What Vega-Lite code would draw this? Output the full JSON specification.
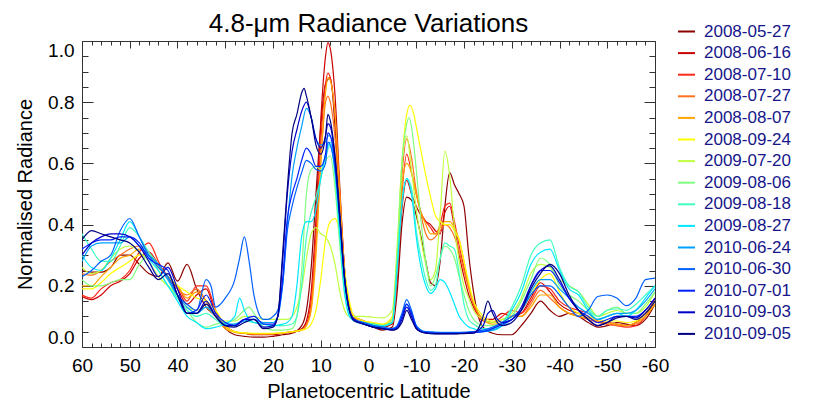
{
"$schema":"https://vega.github.io/schema/vega-lite/v6.json",
"autosize":{"type":"none"},
"padding":{"left":82,"top":41,"right":162,"bottom":62},
"width":573,"height":306,
"title":{"text":"4.8-μm Radiance Variations","fontSize":26,"font":"Liberation Sans","fontWeight":"normal","color":"black","anchor":"middle","offset":-15},
"config":{"view":{"stroke":"#333","strokeWidth":1},"font":"Liberation Sans"},
"data":{"values":[
{"date":"2008-05-27","lat":60,"v":0.25},{"date":"2008-05-27","lat":58,"v":0.245},{"date":"2008-05-27","lat":56,"v":0.245},{"date":"2008-05-27","lat":54,"v":0.26},{"date":"2008-05-27","lat":52,"v":0.3},{"date":"2008-05-27","lat":50,"v":0.3},{"date":"2008-05-27","lat":48,"v":0.27},{"date":"2008-05-27","lat":46,"v":0.24},{"date":"2008-05-27","lat":44,"v":0.23},{"date":"2008-05-27","lat":42,"v":0.275},{"date":"2008-05-27","lat":40,"v":0.215},{"date":"2008-05-27","lat":38,"v":0.27},{"date":"2008-05-27","lat":36,"v":0.19},{"date":"2008-05-27","lat":34,"v":0.13},{"date":"2008-05-27","lat":32,"v":0.1},{"date":"2008-05-27","lat":30,"v":0.06},{"date":"2008-05-27","lat":28,"v":0.04},{"date":"2008-05-27","lat":26,"v":0.035},{"date":"2008-05-27","lat":24,"v":0.032},{"date":"2008-05-27","lat":22,"v":0.032},{"date":"2008-05-27","lat":20,"v":0.035},{"date":"2008-05-27","lat":18,"v":0.04},{"date":"2008-05-27","lat":16,"v":0.045},{"date":"2008-05-27","lat":14,"v":0.07},{"date":"2008-05-27","lat":13,"v":0.12},{"date":"2008-05-27","lat":12,"v":0.26},{"date":"2008-05-27","lat":11,"v":0.5},{"date":"2008-05-27","lat":10,"v":0.72},{"date":"2008-05-27","lat":9,"v":0.86},{"date":"2008-05-27","lat":8,"v":0.88},{"date":"2008-05-27","lat":7,"v":0.72},{"date":"2008-05-27","lat":6,"v":0.47},{"date":"2008-05-27","lat":5,"v":0.24},{"date":"2008-05-27","lat":4,"v":0.13},{"date":"2008-05-27","lat":3,"v":0.095},{"date":"2008-05-27","lat":1,"v":0.075},{"date":"2008-05-27","lat":-1,"v":0.065},{"date":"2008-05-27","lat":-3,"v":0.055},{"date":"2008-05-27","lat":-5,"v":0.065},{"date":"2008-05-27","lat":-6,"v":0.18},{"date":"2008-05-27","lat":-7,"v":0.4},{"date":"2008-05-27","lat":-8,"v":0.49},{"date":"2008-05-27","lat":-9,"v":0.48},{"date":"2008-05-27","lat":-10,"v":0.43},{"date":"2008-05-27","lat":-11,"v":0.36},{"date":"2008-05-27","lat":-12,"v":0.28},{"date":"2008-05-27","lat":-13,"v":0.21},{"date":"2008-05-27","lat":-14,"v":0.2},{"date":"2008-05-27","lat":-15,"v":0.28},{"date":"2008-05-27","lat":-16,"v":0.46},{"date":"2008-05-27","lat":-17,"v":0.57},{"date":"2008-05-27","lat":-18,"v":0.53},{"date":"2008-05-27","lat":-19,"v":0.5},{"date":"2008-05-27","lat":-20,"v":0.46},{"date":"2008-05-27","lat":-21,"v":0.3},{"date":"2008-05-27","lat":-22,"v":0.18},{"date":"2008-05-27","lat":-23,"v":0.1},{"date":"2008-05-27","lat":-24,"v":0.065},{"date":"2008-05-27","lat":-26,"v":0.045},{"date":"2008-05-27","lat":-28,"v":0.04},{"date":"2008-05-27","lat":-30,"v":0.04},{"date":"2008-05-27","lat":-32,"v":0.07},{"date":"2008-05-27","lat":-34,"v":0.11},{"date":"2008-05-27","lat":-36,"v":0.15},{"date":"2008-05-27","lat":-38,"v":0.12},{"date":"2008-05-27","lat":-40,"v":0.1},{"date":"2008-05-27","lat":-42,"v":0.11},{"date":"2008-05-27","lat":-44,"v":0.1},{"date":"2008-05-27","lat":-46,"v":0.08},{"date":"2008-05-27","lat":-48,"v":0.065},{"date":"2008-05-27","lat":-50,"v":0.07},{"date":"2008-05-27","lat":-52,"v":0.08},{"date":"2008-05-27","lat":-54,"v":0.075},{"date":"2008-05-27","lat":-56,"v":0.07},{"date":"2008-05-27","lat":-58,"v":0.09},{"date":"2008-05-27","lat":-60,"v":0.14},
{"date":"2008-06-16","lat":60,"v":0.165},{"date":"2008-06-16","lat":58,"v":0.155},{"date":"2008-06-16","lat":56,"v":0.17},{"date":"2008-06-16","lat":54,"v":0.2},{"date":"2008-06-16","lat":52,"v":0.215},{"date":"2008-06-16","lat":50,"v":0.24},{"date":"2008-06-16","lat":48,"v":0.29},{"date":"2008-06-16","lat":46,"v":0.31},{"date":"2008-06-16","lat":44,"v":0.27},{"date":"2008-06-16","lat":42,"v":0.23},{"date":"2008-06-16","lat":40,"v":0.19},{"date":"2008-06-16","lat":38,"v":0.14},{"date":"2008-06-16","lat":36,"v":0.17},{"date":"2008-06-16","lat":34,"v":0.19},{"date":"2008-06-16","lat":32,"v":0.11},{"date":"2008-06-16","lat":30,"v":0.07},{"date":"2008-06-16","lat":28,"v":0.05},{"date":"2008-06-16","lat":26,"v":0.045},{"date":"2008-06-16","lat":24,"v":0.04},{"date":"2008-06-16","lat":22,"v":0.04},{"date":"2008-06-16","lat":20,"v":0.04},{"date":"2008-06-16","lat":18,"v":0.045},{"date":"2008-06-16","lat":16,"v":0.05},{"date":"2008-06-16","lat":14,"v":0.06},{"date":"2008-06-16","lat":13,"v":0.085},{"date":"2008-06-16","lat":12,"v":0.18},{"date":"2008-06-16","lat":11,"v":0.42},{"date":"2008-06-16","lat":10,"v":0.74},{"date":"2008-06-16","lat":9,"v":0.95},{"date":"2008-06-16","lat":8.5,"v":0.995},{"date":"2008-06-16","lat":8,"v":0.975},{"date":"2008-06-16","lat":7,"v":0.82},{"date":"2008-06-16","lat":6,"v":0.52},{"date":"2008-06-16","lat":5,"v":0.25},{"date":"2008-06-16","lat":4,"v":0.13},{"date":"2008-06-16","lat":3,"v":0.1},{"date":"2008-06-16","lat":1,"v":0.085},{"date":"2008-06-16","lat":-1,"v":0.07},{"date":"2008-06-16","lat":-3,"v":0.065},{"date":"2008-06-16","lat":-5,"v":0.075},{"date":"2008-06-16","lat":-6,"v":0.22},{"date":"2008-06-16","lat":-7,"v":0.45},{"date":"2008-06-16","lat":-8,"v":0.545},{"date":"2008-06-16","lat":-9,"v":0.5},{"date":"2008-06-16","lat":-10,"v":0.46},{"date":"2008-06-16","lat":-11,"v":0.43},{"date":"2008-06-16","lat":-12,"v":0.41},{"date":"2008-06-16","lat":-13,"v":0.4},{"date":"2008-06-16","lat":-14,"v":0.38},{"date":"2008-06-16","lat":-15,"v":0.37},{"date":"2008-06-16","lat":-16,"v":0.44},{"date":"2008-06-16","lat":-17,"v":0.46},{"date":"2008-06-16","lat":-18,"v":0.39},{"date":"2008-06-16","lat":-19,"v":0.3},{"date":"2008-06-16","lat":-20,"v":0.23},{"date":"2008-06-16","lat":-21,"v":0.17},{"date":"2008-06-16","lat":-22,"v":0.13},{"date":"2008-06-16","lat":-23,"v":0.1},{"date":"2008-06-16","lat":-24,"v":0.09},{"date":"2008-06-16","lat":-26,"v":0.09},{"date":"2008-06-16","lat":-28,"v":0.11},{"date":"2008-06-16","lat":-30,"v":0.1},{"date":"2008-06-16","lat":-32,"v":0.11},{"date":"2008-06-16","lat":-34,"v":0.16},{"date":"2008-06-16","lat":-36,"v":0.21},{"date":"2008-06-16","lat":-38,"v":0.18},{"date":"2008-06-16","lat":-40,"v":0.14},{"date":"2008-06-16","lat":-42,"v":0.12},{"date":"2008-06-16","lat":-44,"v":0.11},{"date":"2008-06-16","lat":-46,"v":0.1},{"date":"2008-06-16","lat":-48,"v":0.08},{"date":"2008-06-16","lat":-50,"v":0.08},{"date":"2008-06-16","lat":-52,"v":0.075},{"date":"2008-06-16","lat":-54,"v":0.07},{"date":"2008-06-16","lat":-56,"v":0.08},{"date":"2008-06-16","lat":-58,"v":0.11},{"date":"2008-06-16","lat":-60,"v":0.15},
{"date":"2008-07-10","lat":60,"v":0.17},{"date":"2008-07-10","lat":58,"v":0.16},{"date":"2008-07-10","lat":56,"v":0.19},{"date":"2008-07-10","lat":54,"v":0.21},{"date":"2008-07-10","lat":52,"v":0.22},{"date":"2008-07-10","lat":50,"v":0.25},{"date":"2008-07-10","lat":48,"v":0.31},{"date":"2008-07-10","lat":46,"v":0.34},{"date":"2008-07-10","lat":44,"v":0.28},{"date":"2008-07-10","lat":42,"v":0.22},{"date":"2008-07-10","lat":40,"v":0.2},{"date":"2008-07-10","lat":38,"v":0.15},{"date":"2008-07-10","lat":36,"v":0.2},{"date":"2008-07-10","lat":34,"v":0.2},{"date":"2008-07-10","lat":32,"v":0.12},{"date":"2008-07-10","lat":30,"v":0.07},{"date":"2008-07-10","lat":28,"v":0.05},{"date":"2008-07-10","lat":26,"v":0.045},{"date":"2008-07-10","lat":24,"v":0.042},{"date":"2008-07-10","lat":22,"v":0.042},{"date":"2008-07-10","lat":20,"v":0.043},{"date":"2008-07-10","lat":18,"v":0.045},{"date":"2008-07-10","lat":16,"v":0.05},{"date":"2008-07-10","lat":14,"v":0.055},{"date":"2008-07-10","lat":13,"v":0.075},{"date":"2008-07-10","lat":12,"v":0.15},{"date":"2008-07-10","lat":11,"v":0.37},{"date":"2008-07-10","lat":10,"v":0.67},{"date":"2008-07-10","lat":9,"v":0.86},{"date":"2008-07-10","lat":8.5,"v":0.895},{"date":"2008-07-10","lat":8,"v":0.88},{"date":"2008-07-10","lat":7,"v":0.75},{"date":"2008-07-10","lat":6,"v":0.5},{"date":"2008-07-10","lat":5,"v":0.25},{"date":"2008-07-10","lat":4,"v":0.13},{"date":"2008-07-10","lat":3,"v":0.1},{"date":"2008-07-10","lat":1,"v":0.085},{"date":"2008-07-10","lat":-1,"v":0.075},{"date":"2008-07-10","lat":-3,"v":0.068},{"date":"2008-07-10","lat":-5,"v":0.08},{"date":"2008-07-10","lat":-6,"v":0.25},{"date":"2008-07-10","lat":-7,"v":0.5},{"date":"2008-07-10","lat":-8,"v":0.63},{"date":"2008-07-10","lat":-9,"v":0.57},{"date":"2008-07-10","lat":-10,"v":0.5},{"date":"2008-07-10","lat":-11,"v":0.44},{"date":"2008-07-10","lat":-12,"v":0.41},{"date":"2008-07-10","lat":-13,"v":0.39},{"date":"2008-07-10","lat":-14,"v":0.37},{"date":"2008-07-10","lat":-15,"v":0.4},{"date":"2008-07-10","lat":-16,"v":0.46},{"date":"2008-07-10","lat":-17,"v":0.47},{"date":"2008-07-10","lat":-18,"v":0.41},{"date":"2008-07-10","lat":-19,"v":0.33},{"date":"2008-07-10","lat":-20,"v":0.26},{"date":"2008-07-10","lat":-21,"v":0.2},{"date":"2008-07-10","lat":-22,"v":0.14},{"date":"2008-07-10","lat":-23,"v":0.1},{"date":"2008-07-10","lat":-24,"v":0.085},{"date":"2008-07-10","lat":-26,"v":0.08},{"date":"2008-07-10","lat":-28,"v":0.1},{"date":"2008-07-10","lat":-30,"v":0.12},{"date":"2008-07-10","lat":-32,"v":0.11},{"date":"2008-07-10","lat":-34,"v":0.15},{"date":"2008-07-10","lat":-36,"v":0.2},{"date":"2008-07-10","lat":-38,"v":0.19},{"date":"2008-07-10","lat":-40,"v":0.15},{"date":"2008-07-10","lat":-42,"v":0.13},{"date":"2008-07-10","lat":-44,"v":0.12},{"date":"2008-07-10","lat":-46,"v":0.11},{"date":"2008-07-10","lat":-48,"v":0.085},{"date":"2008-07-10","lat":-50,"v":0.075},{"date":"2008-07-10","lat":-52,"v":0.07},{"date":"2008-07-10","lat":-54,"v":0.065},{"date":"2008-07-10","lat":-56,"v":0.07},{"date":"2008-07-10","lat":-58,"v":0.1},{"date":"2008-07-10","lat":-60,"v":0.16},
{"date":"2008-07-27","lat":60,"v":0.24},{"date":"2008-07-27","lat":58,"v":0.235},{"date":"2008-07-27","lat":56,"v":0.25},{"date":"2008-07-27","lat":54,"v":0.28},{"date":"2008-07-27","lat":52,"v":0.3},{"date":"2008-07-27","lat":50,"v":0.32},{"date":"2008-07-27","lat":48,"v":0.33},{"date":"2008-07-27","lat":46,"v":0.31},{"date":"2008-07-27","lat":44,"v":0.27},{"date":"2008-07-27","lat":42,"v":0.23},{"date":"2008-07-27","lat":40,"v":0.19},{"date":"2008-07-27","lat":38,"v":0.17},{"date":"2008-07-27","lat":36,"v":0.19},{"date":"2008-07-27","lat":34,"v":0.15},{"date":"2008-07-27","lat":32,"v":0.1},{"date":"2008-07-27","lat":30,"v":0.065},{"date":"2008-07-27","lat":28,"v":0.05},{"date":"2008-07-27","lat":26,"v":0.045},{"date":"2008-07-27","lat":24,"v":0.042},{"date":"2008-07-27","lat":22,"v":0.042},{"date":"2008-07-27","lat":20,"v":0.043},{"date":"2008-07-27","lat":18,"v":0.045},{"date":"2008-07-27","lat":16,"v":0.05},{"date":"2008-07-27","lat":14,"v":0.055},{"date":"2008-07-27","lat":13,"v":0.07},{"date":"2008-07-27","lat":12,"v":0.13},{"date":"2008-07-27","lat":11,"v":0.33},{"date":"2008-07-27","lat":10,"v":0.6},{"date":"2008-07-27","lat":9,"v":0.8},{"date":"2008-07-27","lat":8.5,"v":0.82},{"date":"2008-07-27","lat":8,"v":0.8},{"date":"2008-07-27","lat":7,"v":0.68},{"date":"2008-07-27","lat":6,"v":0.45},{"date":"2008-07-27","lat":5,"v":0.23},{"date":"2008-07-27","lat":4,"v":0.12},{"date":"2008-07-27","lat":3,"v":0.095},{"date":"2008-07-27","lat":1,"v":0.085},{"date":"2008-07-27","lat":-1,"v":0.075},{"date":"2008-07-27","lat":-3,"v":0.07},{"date":"2008-07-27","lat":-5,"v":0.09},{"date":"2008-07-27","lat":-6,"v":0.3},{"date":"2008-07-27","lat":-7,"v":0.56},{"date":"2008-07-27","lat":-8,"v":0.68},{"date":"2008-07-27","lat":-9,"v":0.62},{"date":"2008-07-27","lat":-10,"v":0.51},{"date":"2008-07-27","lat":-11,"v":0.43},{"date":"2008-07-27","lat":-12,"v":0.37},{"date":"2008-07-27","lat":-13,"v":0.35},{"date":"2008-07-27","lat":-14,"v":0.36},{"date":"2008-07-27","lat":-15,"v":0.38},{"date":"2008-07-27","lat":-16,"v":0.4},{"date":"2008-07-27","lat":-17,"v":0.39},{"date":"2008-07-27","lat":-18,"v":0.36},{"date":"2008-07-27","lat":-19,"v":0.31},{"date":"2008-07-27","lat":-20,"v":0.25},{"date":"2008-07-27","lat":-21,"v":0.19},{"date":"2008-07-27","lat":-22,"v":0.14},{"date":"2008-07-27","lat":-23,"v":0.11},{"date":"2008-07-27","lat":-24,"v":0.09},{"date":"2008-07-27","lat":-26,"v":0.08},{"date":"2008-07-27","lat":-28,"v":0.09},{"date":"2008-07-27","lat":-30,"v":0.1},{"date":"2008-07-27","lat":-32,"v":0.1},{"date":"2008-07-27","lat":-34,"v":0.14},{"date":"2008-07-27","lat":-36,"v":0.185},{"date":"2008-07-27","lat":-38,"v":0.16},{"date":"2008-07-27","lat":-40,"v":0.13},{"date":"2008-07-27","lat":-42,"v":0.11},{"date":"2008-07-27","lat":-44,"v":0.1},{"date":"2008-07-27","lat":-46,"v":0.09},{"date":"2008-07-27","lat":-48,"v":0.08},{"date":"2008-07-27","lat":-50,"v":0.075},{"date":"2008-07-27","lat":-52,"v":0.07},{"date":"2008-07-27","lat":-54,"v":0.07},{"date":"2008-07-27","lat":-56,"v":0.075},{"date":"2008-07-27","lat":-58,"v":0.1},{"date":"2008-07-27","lat":-60,"v":0.15},
{"date":"2008-08-07","lat":60,"v":0.2},{"date":"2008-08-07","lat":58,"v":0.2},{"date":"2008-08-07","lat":56,"v":0.23},{"date":"2008-08-07","lat":54,"v":0.26},{"date":"2008-08-07","lat":52,"v":0.29},{"date":"2008-08-07","lat":50,"v":0.3},{"date":"2008-08-07","lat":48,"v":0.32},{"date":"2008-08-07","lat":46,"v":0.3},{"date":"2008-08-07","lat":44,"v":0.26},{"date":"2008-08-07","lat":42,"v":0.23},{"date":"2008-08-07","lat":40,"v":0.2},{"date":"2008-08-07","lat":38,"v":0.16},{"date":"2008-08-07","lat":36,"v":0.18},{"date":"2008-08-07","lat":34,"v":0.15},{"date":"2008-08-07","lat":32,"v":0.1},{"date":"2008-08-07","lat":30,"v":0.06},{"date":"2008-08-07","lat":28,"v":0.048},{"date":"2008-08-07","lat":26,"v":0.045},{"date":"2008-08-07","lat":24,"v":0.043},{"date":"2008-08-07","lat":22,"v":0.043},{"date":"2008-08-07","lat":20,"v":0.044},{"date":"2008-08-07","lat":18,"v":0.046},{"date":"2008-08-07","lat":16,"v":0.05},{"date":"2008-08-07","lat":14,"v":0.055},{"date":"2008-08-07","lat":13,"v":0.07},{"date":"2008-08-07","lat":12,"v":0.12},{"date":"2008-08-07","lat":11,"v":0.3},{"date":"2008-08-07","lat":10,"v":0.6},{"date":"2008-08-07","lat":9,"v":0.83},{"date":"2008-08-07","lat":8.5,"v":0.88},{"date":"2008-08-07","lat":8,"v":0.87},{"date":"2008-08-07","lat":7,"v":0.76},{"date":"2008-08-07","lat":6,"v":0.5},{"date":"2008-08-07","lat":5,"v":0.25},{"date":"2008-08-07","lat":4,"v":0.13},{"date":"2008-08-07","lat":3,"v":0.1},{"date":"2008-08-07","lat":1,"v":0.085},{"date":"2008-08-07","lat":-1,"v":0.078},{"date":"2008-08-07","lat":-3,"v":0.072},{"date":"2008-08-07","lat":-5,"v":0.09},{"date":"2008-08-07","lat":-6,"v":0.28},{"date":"2008-08-07","lat":-7,"v":0.52},{"date":"2008-08-07","lat":-8,"v":0.6},{"date":"2008-08-07","lat":-9,"v":0.57},{"date":"2008-08-07","lat":-10,"v":0.5},{"date":"2008-08-07","lat":-11,"v":0.44},{"date":"2008-08-07","lat":-12,"v":0.4},{"date":"2008-08-07","lat":-13,"v":0.37},{"date":"2008-08-07","lat":-14,"v":0.37},{"date":"2008-08-07","lat":-15,"v":0.39},{"date":"2008-08-07","lat":-16,"v":0.41},{"date":"2008-08-07","lat":-17,"v":0.41},{"date":"2008-08-07","lat":-18,"v":0.39},{"date":"2008-08-07","lat":-19,"v":0.35},{"date":"2008-08-07","lat":-20,"v":0.28},{"date":"2008-08-07","lat":-21,"v":0.2},{"date":"2008-08-07","lat":-22,"v":0.15},{"date":"2008-08-07","lat":-23,"v":0.11},{"date":"2008-08-07","lat":-24,"v":0.09},{"date":"2008-08-07","lat":-26,"v":0.075},{"date":"2008-08-07","lat":-28,"v":0.08},{"date":"2008-08-07","lat":-30,"v":0.1},{"date":"2008-08-07","lat":-32,"v":0.1},{"date":"2008-08-07","lat":-34,"v":0.13},{"date":"2008-08-07","lat":-36,"v":0.17},{"date":"2008-08-07","lat":-38,"v":0.17},{"date":"2008-08-07","lat":-40,"v":0.13},{"date":"2008-08-07","lat":-42,"v":0.11},{"date":"2008-08-07","lat":-44,"v":0.1},{"date":"2008-08-07","lat":-46,"v":0.095},{"date":"2008-08-07","lat":-48,"v":0.085},{"date":"2008-08-07","lat":-50,"v":0.08},{"date":"2008-08-07","lat":-52,"v":0.075},{"date":"2008-08-07","lat":-54,"v":0.07},{"date":"2008-08-07","lat":-56,"v":0.08},{"date":"2008-08-07","lat":-58,"v":0.1},{"date":"2008-08-07","lat":-60,"v":0.14},
{"date":"2008-09-24","lat":60,"v":0.19},{"date":"2008-09-24","lat":58,"v":0.19},{"date":"2008-09-24","lat":56,"v":0.21},{"date":"2008-09-24","lat":54,"v":0.24},{"date":"2008-09-24","lat":52,"v":0.26},{"date":"2008-09-24","lat":50,"v":0.28},{"date":"2008-09-24","lat":48,"v":0.3},{"date":"2008-09-24","lat":46,"v":0.3},{"date":"2008-09-24","lat":44,"v":0.26},{"date":"2008-09-24","lat":42,"v":0.23},{"date":"2008-09-24","lat":40,"v":0.2},{"date":"2008-09-24","lat":38,"v":0.18},{"date":"2008-09-24","lat":36,"v":0.16},{"date":"2008-09-24","lat":34,"v":0.15},{"date":"2008-09-24","lat":32,"v":0.12},{"date":"2008-09-24","lat":30,"v":0.07},{"date":"2008-09-24","lat":28,"v":0.05},{"date":"2008-09-24","lat":26,"v":0.046},{"date":"2008-09-24","lat":24,"v":0.045},{"date":"2008-09-24","lat":22,"v":0.045},{"date":"2008-09-24","lat":20,"v":0.045},{"date":"2008-09-24","lat":18,"v":0.046},{"date":"2008-09-24","lat":16,"v":0.05},{"date":"2008-09-24","lat":14,"v":0.055},{"date":"2008-09-24","lat":13,"v":0.06},{"date":"2008-09-24","lat":12,"v":0.075},{"date":"2008-09-24","lat":11,"v":0.12},{"date":"2008-09-24","lat":10,"v":0.22},{"date":"2008-09-24","lat":9,"v":0.35},{"date":"2008-09-24","lat":8,"v":0.41},{"date":"2008-09-24","lat":7,"v":0.42},{"date":"2008-09-24","lat":6,"v":0.37},{"date":"2008-09-24","lat":5,"v":0.25},{"date":"2008-09-24","lat":4,"v":0.15},{"date":"2008-09-24","lat":3,"v":0.1},{"date":"2008-09-24","lat":1,"v":0.085},{"date":"2008-09-24","lat":-1,"v":0.08},{"date":"2008-09-24","lat":-3,"v":0.075},{"date":"2008-09-24","lat":-5,"v":0.1},{"date":"2008-09-24","lat":-6,"v":0.3},{"date":"2008-09-24","lat":-7,"v":0.6},{"date":"2008-09-24","lat":-8,"v":0.76},{"date":"2008-09-24","lat":-8.7,"v":0.79},{"date":"2008-09-24","lat":-9.5,"v":0.76},{"date":"2008-09-24","lat":-10,"v":0.72},{"date":"2008-09-24","lat":-11,"v":0.64},{"date":"2008-09-24","lat":-12,"v":0.56},{"date":"2008-09-24","lat":-13,"v":0.49},{"date":"2008-09-24","lat":-14,"v":0.43},{"date":"2008-09-24","lat":-15,"v":0.41},{"date":"2008-09-24","lat":-16,"v":0.4},{"date":"2008-09-24","lat":-17,"v":0.4},{"date":"2008-09-24","lat":-18,"v":0.38},{"date":"2008-09-24","lat":-19,"v":0.35},{"date":"2008-09-24","lat":-20,"v":0.28},{"date":"2008-09-24","lat":-21,"v":0.21},{"date":"2008-09-24","lat":-22,"v":0.15},{"date":"2008-09-24","lat":-23,"v":0.12},{"date":"2008-09-24","lat":-24,"v":0.1},{"date":"2008-09-24","lat":-26,"v":0.085},{"date":"2008-09-24","lat":-28,"v":0.09},{"date":"2008-09-24","lat":-30,"v":0.1},{"date":"2008-09-24","lat":-32,"v":0.12},{"date":"2008-09-24","lat":-34,"v":0.17},{"date":"2008-09-24","lat":-36,"v":0.22},{"date":"2008-09-24","lat":-38,"v":0.24},{"date":"2008-09-24","lat":-40,"v":0.18},{"date":"2008-09-24","lat":-42,"v":0.13},{"date":"2008-09-24","lat":-44,"v":0.11},{"date":"2008-09-24","lat":-46,"v":0.1},{"date":"2008-09-24","lat":-48,"v":0.09},{"date":"2008-09-24","lat":-50,"v":0.085},{"date":"2008-09-24","lat":-52,"v":0.085},{"date":"2008-09-24","lat":-54,"v":0.08},{"date":"2008-09-24","lat":-56,"v":0.085},{"date":"2008-09-24","lat":-58,"v":0.11},{"date":"2008-09-24","lat":-60,"v":0.15},
{"date":"2009-07-20","lat":60,"v":0.26},{"date":"2009-07-20","lat":58,"v":0.24},{"date":"2009-07-20","lat":56,"v":0.25},{"date":"2009-07-20","lat":54,"v":0.29},{"date":"2009-07-20","lat":52,"v":0.32},{"date":"2009-07-20","lat":50,"v":0.33},{"date":"2009-07-20","lat":48,"v":0.31},{"date":"2009-07-20","lat":46,"v":0.28},{"date":"2009-07-20","lat":44,"v":0.23},{"date":"2009-07-20","lat":42,"v":0.2},{"date":"2009-07-20","lat":40,"v":0.17},{"date":"2009-07-20","lat":38,"v":0.13},{"date":"2009-07-20","lat":36,"v":0.12},{"date":"2009-07-20","lat":34,"v":0.13},{"date":"2009-07-20","lat":32,"v":0.1},{"date":"2009-07-20","lat":30,"v":0.085},{"date":"2009-07-20","lat":28,"v":0.085},{"date":"2009-07-20","lat":26,"v":0.1},{"date":"2009-07-20","lat":24,"v":0.1},{"date":"2009-07-20","lat":22,"v":0.09},{"date":"2009-07-20","lat":20,"v":0.09},{"date":"2009-07-20","lat":18,"v":0.09},{"date":"2009-07-20","lat":17,"v":0.09},{"date":"2009-07-20","lat":16,"v":0.1},{"date":"2009-07-20","lat":15,"v":0.13},{"date":"2009-07-20","lat":14,"v":0.19},{"date":"2009-07-20","lat":13,"v":0.29},{"date":"2009-07-20","lat":12,"v":0.37},{"date":"2009-07-20","lat":11,"v":0.39},{"date":"2009-07-20","lat":10,"v":0.37},{"date":"2009-07-20","lat":9,"v":0.36},{"date":"2009-07-20","lat":8,"v":0.33},{"date":"2009-07-20","lat":7,"v":0.27},{"date":"2009-07-20","lat":6,"v":0.18},{"date":"2009-07-20","lat":5,"v":0.12},{"date":"2009-07-20","lat":4,"v":0.1},{"date":"2009-07-20","lat":3,"v":0.1},{"date":"2009-07-20","lat":1,"v":0.1},{"date":"2009-07-20","lat":-1,"v":0.097},{"date":"2009-07-20","lat":-3,"v":0.095},{"date":"2009-07-20","lat":-5,"v":0.12},{"date":"2009-07-20","lat":-6,"v":0.33},{"date":"2009-07-20","lat":-7,"v":0.6},{"date":"2009-07-20","lat":-8,"v":0.69},{"date":"2009-07-20","lat":-9,"v":0.58},{"date":"2009-07-20","lat":-10,"v":0.45},{"date":"2009-07-20","lat":-11,"v":0.35},{"date":"2009-07-20","lat":-12,"v":0.27},{"date":"2009-07-20","lat":-13,"v":0.22},{"date":"2009-07-20","lat":-14,"v":0.25},{"date":"2009-07-20","lat":-15,"v":0.43},{"date":"2009-07-20","lat":-16,"v":0.64},{"date":"2009-07-20","lat":-17,"v":0.56},{"date":"2009-07-20","lat":-18,"v":0.39},{"date":"2009-07-20","lat":-19,"v":0.28},{"date":"2009-07-20","lat":-20,"v":0.2},{"date":"2009-07-20","lat":-21,"v":0.16},{"date":"2009-07-20","lat":-22,"v":0.12},{"date":"2009-07-20","lat":-23,"v":0.1},{"date":"2009-07-20","lat":-24,"v":0.09},{"date":"2009-07-20","lat":-26,"v":0.08},{"date":"2009-07-20","lat":-28,"v":0.09},{"date":"2009-07-20","lat":-30,"v":0.11},{"date":"2009-07-20","lat":-32,"v":0.16},{"date":"2009-07-20","lat":-34,"v":0.24},{"date":"2009-07-20","lat":-36,"v":0.27},{"date":"2009-07-20","lat":-38,"v":0.26},{"date":"2009-07-20","lat":-40,"v":0.22},{"date":"2009-07-20","lat":-42,"v":0.2},{"date":"2009-07-20","lat":-44,"v":0.18},{"date":"2009-07-20","lat":-46,"v":0.14},{"date":"2009-07-20","lat":-48,"v":0.1},{"date":"2009-07-20","lat":-50,"v":0.11},{"date":"2009-07-20","lat":-52,"v":0.12},{"date":"2009-07-20","lat":-54,"v":0.11},{"date":"2009-07-20","lat":-56,"v":0.11},{"date":"2009-07-20","lat":-58,"v":0.13},{"date":"2009-07-20","lat":-60,"v":0.18},
{"date":"2009-08-06","lat":60,"v":0.22},{"date":"2009-08-06","lat":58,"v":0.2},{"date":"2009-08-06","lat":56,"v":0.2},{"date":"2009-08-06","lat":54,"v":0.21},{"date":"2009-08-06","lat":52,"v":0.22},{"date":"2009-08-06","lat":50,"v":0.22},{"date":"2009-08-06","lat":48,"v":0.27},{"date":"2009-08-06","lat":46,"v":0.3},{"date":"2009-08-06","lat":44,"v":0.25},{"date":"2009-08-06","lat":42,"v":0.2},{"date":"2009-08-06","lat":40,"v":0.16},{"date":"2009-08-06","lat":38,"v":0.12},{"date":"2009-08-06","lat":36,"v":0.08},{"date":"2009-08-06","lat":34,"v":0.065},{"date":"2009-08-06","lat":32,"v":0.075},{"date":"2009-08-06","lat":30,"v":0.08},{"date":"2009-08-06","lat":28,"v":0.09},{"date":"2009-08-06","lat":26,"v":0.12},{"date":"2009-08-06","lat":25,"v":0.13},{"date":"2009-08-06","lat":24,"v":0.11},{"date":"2009-08-06","lat":22,"v":0.065},{"date":"2009-08-06","lat":20,"v":0.055},{"date":"2009-08-06","lat":18,"v":0.055},{"date":"2009-08-06","lat":16,"v":0.06},{"date":"2009-08-06","lat":15,"v":0.1},{"date":"2009-08-06","lat":14,"v":0.25},{"date":"2009-08-06","lat":13,"v":0.5},{"date":"2009-08-06","lat":12,"v":0.58},{"date":"2009-08-06","lat":11,"v":0.59},{"date":"2009-08-06","lat":10,"v":0.58},{"date":"2009-08-06","lat":9,"v":0.61},{"date":"2009-08-06","lat":8,"v":0.625},{"date":"2009-08-06","lat":7,"v":0.52},{"date":"2009-08-06","lat":6,"v":0.33},{"date":"2009-08-06","lat":5,"v":0.17},{"date":"2009-08-06","lat":4,"v":0.11},{"date":"2009-08-06","lat":3,"v":0.09},{"date":"2009-08-06","lat":1,"v":0.08},{"date":"2009-08-06","lat":-1,"v":0.075},{"date":"2009-08-06","lat":-3,"v":0.07},{"date":"2009-08-06","lat":-5,"v":0.09},{"date":"2009-08-06","lat":-6,"v":0.3},{"date":"2009-08-06","lat":-7,"v":0.6},{"date":"2009-08-06","lat":-8,"v":0.73},{"date":"2009-08-06","lat":-8.5,"v":0.75},{"date":"2009-08-06","lat":-9,"v":0.72},{"date":"2009-08-06","lat":-10,"v":0.58},{"date":"2009-08-06","lat":-11,"v":0.41},{"date":"2009-08-06","lat":-12,"v":0.28},{"date":"2009-08-06","lat":-13,"v":0.2},{"date":"2009-08-06","lat":-14,"v":0.23},{"date":"2009-08-06","lat":-15,"v":0.29},{"date":"2009-08-06","lat":-16,"v":0.33},{"date":"2009-08-06","lat":-17,"v":0.32},{"date":"2009-08-06","lat":-18,"v":0.29},{"date":"2009-08-06","lat":-19,"v":0.23},{"date":"2009-08-06","lat":-20,"v":0.17},{"date":"2009-08-06","lat":-21,"v":0.12},{"date":"2009-08-06","lat":-22,"v":0.09},{"date":"2009-08-06","lat":-23,"v":0.075},{"date":"2009-08-06","lat":-24,"v":0.07},{"date":"2009-08-06","lat":-26,"v":0.07},{"date":"2009-08-06","lat":-28,"v":0.08},{"date":"2009-08-06","lat":-30,"v":0.1},{"date":"2009-08-06","lat":-32,"v":0.15},{"date":"2009-08-06","lat":-34,"v":0.22},{"date":"2009-08-06","lat":-36,"v":0.29},{"date":"2009-08-06","lat":-38,"v":0.27},{"date":"2009-08-06","lat":-40,"v":0.2},{"date":"2009-08-06","lat":-42,"v":0.17},{"date":"2009-08-06","lat":-44,"v":0.15},{"date":"2009-08-06","lat":-46,"v":0.12},{"date":"2009-08-06","lat":-48,"v":0.1},{"date":"2009-08-06","lat":-50,"v":0.12},{"date":"2009-08-06","lat":-52,"v":0.13},{"date":"2009-08-06","lat":-54,"v":0.11},{"date":"2009-08-06","lat":-56,"v":0.11},{"date":"2009-08-06","lat":-58,"v":0.14},{"date":"2009-08-06","lat":-60,"v":0.18},
{"date":"2009-08-18","lat":60,"v":0.37},{"date":"2009-08-18","lat":58,"v":0.32},{"date":"2009-08-18","lat":56,"v":0.28},{"date":"2009-08-18","lat":54,"v":0.28},{"date":"2009-08-18","lat":52,"v":0.33},{"date":"2009-08-18","lat":50,"v":0.39},{"date":"2009-08-18","lat":48,"v":0.36},{"date":"2009-08-18","lat":46,"v":0.31},{"date":"2009-08-18","lat":44,"v":0.27},{"date":"2009-08-18","lat":42,"v":0.22},{"date":"2009-08-18","lat":40,"v":0.16},{"date":"2009-08-18","lat":38,"v":0.12},{"date":"2009-08-18","lat":36,"v":0.1},{"date":"2009-08-18","lat":34,"v":0.11},{"date":"2009-08-18","lat":32,"v":0.09},{"date":"2009-08-18","lat":30,"v":0.07},{"date":"2009-08-18","lat":28,"v":0.075},{"date":"2009-08-18","lat":26,"v":0.085},{"date":"2009-08-18","lat":24,"v":0.08},{"date":"2009-08-18","lat":22,"v":0.075},{"date":"2009-08-18","lat":20,"v":0.07},{"date":"2009-08-18","lat":18,"v":0.07},{"date":"2009-08-18","lat":16,"v":0.075},{"date":"2009-08-18","lat":15,"v":0.1},{"date":"2009-08-18","lat":14,"v":0.2},{"date":"2009-08-18","lat":13,"v":0.36},{"date":"2009-08-18","lat":12,"v":0.44},{"date":"2009-08-18","lat":11,"v":0.49},{"date":"2009-08-18","lat":10,"v":0.55},{"date":"2009-08-18","lat":9,"v":0.62},{"date":"2009-08-18","lat":8,"v":0.66},{"date":"2009-08-18","lat":7,"v":0.56},{"date":"2009-08-18","lat":6,"v":0.36},{"date":"2009-08-18","lat":5,"v":0.18},{"date":"2009-08-18","lat":4,"v":0.11},{"date":"2009-08-18","lat":3,"v":0.09},{"date":"2009-08-18","lat":1,"v":0.08},{"date":"2009-08-18","lat":-1,"v":0.075},{"date":"2009-08-18","lat":-3,"v":0.07},{"date":"2009-08-18","lat":-5,"v":0.08},{"date":"2009-08-18","lat":-6,"v":0.25},{"date":"2009-08-18","lat":-7,"v":0.47},{"date":"2009-08-18","lat":-8,"v":0.55},{"date":"2009-08-18","lat":-9,"v":0.52},{"date":"2009-08-18","lat":-10,"v":0.38},{"date":"2009-08-18","lat":-11,"v":0.29},{"date":"2009-08-18","lat":-12,"v":0.22},{"date":"2009-08-18","lat":-13,"v":0.185},{"date":"2009-08-18","lat":-14,"v":0.2},{"date":"2009-08-18","lat":-15,"v":0.29},{"date":"2009-08-18","lat":-16,"v":0.34},{"date":"2009-08-18","lat":-17,"v":0.33},{"date":"2009-08-18","lat":-18,"v":0.32},{"date":"2009-08-18","lat":-19,"v":0.24},{"date":"2009-08-18","lat":-20,"v":0.14},{"date":"2009-08-18","lat":-21,"v":0.09},{"date":"2009-08-18","lat":-22,"v":0.075},{"date":"2009-08-18","lat":-23,"v":0.065},{"date":"2009-08-18","lat":-24,"v":0.06},{"date":"2009-08-18","lat":-26,"v":0.06},{"date":"2009-08-18","lat":-28,"v":0.08},{"date":"2009-08-18","lat":-30,"v":0.13},{"date":"2009-08-18","lat":-32,"v":0.2},{"date":"2009-08-18","lat":-34,"v":0.3},{"date":"2009-08-18","lat":-36,"v":0.34},{"date":"2009-08-18","lat":-38,"v":0.35},{"date":"2009-08-18","lat":-40,"v":0.26},{"date":"2009-08-18","lat":-42,"v":0.2},{"date":"2009-08-18","lat":-44,"v":0.18},{"date":"2009-08-18","lat":-46,"v":0.13},{"date":"2009-08-18","lat":-48,"v":0.1},{"date":"2009-08-18","lat":-50,"v":0.12},{"date":"2009-08-18","lat":-52,"v":0.125},{"date":"2009-08-18","lat":-54,"v":0.12},{"date":"2009-08-18","lat":-56,"v":0.14},{"date":"2009-08-18","lat":-58,"v":0.17},{"date":"2009-08-18","lat":-60,"v":0.2},
{"date":"2009-08-27","lat":60,"v":0.3},{"date":"2009-08-27","lat":58,"v":0.26},{"date":"2009-08-27","lat":56,"v":0.25},{"date":"2009-08-27","lat":54,"v":0.29},{"date":"2009-08-27","lat":52,"v":0.35},{"date":"2009-08-27","lat":50,"v":0.41},{"date":"2009-08-27","lat":48,"v":0.36},{"date":"2009-08-27","lat":46,"v":0.29},{"date":"2009-08-27","lat":44,"v":0.25},{"date":"2009-08-27","lat":42,"v":0.2},{"date":"2009-08-27","lat":40,"v":0.15},{"date":"2009-08-27","lat":38,"v":0.1},{"date":"2009-08-27","lat":36,"v":0.08},{"date":"2009-08-27","lat":34,"v":0.06},{"date":"2009-08-27","lat":32,"v":0.065},{"date":"2009-08-27","lat":30,"v":0.075},{"date":"2009-08-27","lat":28,"v":0.1},{"date":"2009-08-27","lat":27,"v":0.16},{"date":"2009-08-27","lat":26,"v":0.12},{"date":"2009-08-27","lat":25,"v":0.09},{"date":"2009-08-27","lat":24,"v":0.08},{"date":"2009-08-27","lat":22,"v":0.075},{"date":"2009-08-27","lat":20,"v":0.07},{"date":"2009-08-27","lat":18,"v":0.075},{"date":"2009-08-27","lat":17,"v":0.08},{"date":"2009-08-27","lat":16,"v":0.1},{"date":"2009-08-27","lat":15,"v":0.2},{"date":"2009-08-27","lat":14,"v":0.36},{"date":"2009-08-27","lat":13,"v":0.41},{"date":"2009-08-27","lat":12,"v":0.41},{"date":"2009-08-27","lat":11,"v":0.45},{"date":"2009-08-27","lat":10,"v":0.55},{"date":"2009-08-27","lat":9,"v":0.63},{"date":"2009-08-27","lat":8,"v":0.67},{"date":"2009-08-27","lat":7,"v":0.57},{"date":"2009-08-27","lat":6,"v":0.37},{"date":"2009-08-27","lat":5,"v":0.18},{"date":"2009-08-27","lat":4,"v":0.1},{"date":"2009-08-27","lat":3,"v":0.085},{"date":"2009-08-27","lat":1,"v":0.075},{"date":"2009-08-27","lat":-1,"v":0.07},{"date":"2009-08-27","lat":-3,"v":0.068},{"date":"2009-08-27","lat":-5,"v":0.08},{"date":"2009-08-27","lat":-6,"v":0.26},{"date":"2009-08-27","lat":-7,"v":0.47},{"date":"2009-08-27","lat":-8,"v":0.55},{"date":"2009-08-27","lat":-9,"v":0.5},{"date":"2009-08-27","lat":-10,"v":0.36},{"date":"2009-08-27","lat":-11,"v":0.26},{"date":"2009-08-27","lat":-12,"v":0.2},{"date":"2009-08-27","lat":-13,"v":0.175},{"date":"2009-08-27","lat":-14,"v":0.19},{"date":"2009-08-27","lat":-15,"v":0.22},{"date":"2009-08-27","lat":-16,"v":0.21},{"date":"2009-08-27","lat":-17,"v":0.18},{"date":"2009-08-27","lat":-18,"v":0.14},{"date":"2009-08-27","lat":-19,"v":0.1},{"date":"2009-08-27","lat":-20,"v":0.08},{"date":"2009-08-27","lat":-21,"v":0.065},{"date":"2009-08-27","lat":-22,"v":0.06},{"date":"2009-08-27","lat":-23,"v":0.055},{"date":"2009-08-27","lat":-24,"v":0.055},{"date":"2009-08-27","lat":-26,"v":0.055},{"date":"2009-08-27","lat":-28,"v":0.07},{"date":"2009-08-27","lat":-30,"v":0.12},{"date":"2009-08-27","lat":-32,"v":0.18},{"date":"2009-08-27","lat":-34,"v":0.27},{"date":"2009-08-27","lat":-36,"v":0.31},{"date":"2009-08-27","lat":-38,"v":0.32},{"date":"2009-08-27","lat":-40,"v":0.25},{"date":"2009-08-27","lat":-42,"v":0.19},{"date":"2009-08-27","lat":-44,"v":0.17},{"date":"2009-08-27","lat":-46,"v":0.12},{"date":"2009-08-27","lat":-48,"v":0.09},{"date":"2009-08-27","lat":-50,"v":0.1},{"date":"2009-08-27","lat":-52,"v":0.11},{"date":"2009-08-27","lat":-54,"v":0.1},{"date":"2009-08-27","lat":-56,"v":0.12},{"date":"2009-08-27","lat":-58,"v":0.16},{"date":"2009-08-27","lat":-60,"v":0.2},
{"date":"2010-06-24","lat":60,"v":0.28},{"date":"2010-06-24","lat":58,"v":0.33},{"date":"2010-06-24","lat":56,"v":0.34},{"date":"2010-06-24","lat":54,"v":0.34},{"date":"2010-06-24","lat":52,"v":0.34},{"date":"2010-06-24","lat":50,"v":0.36},{"date":"2010-06-24","lat":48,"v":0.33},{"date":"2010-06-24","lat":46,"v":0.3},{"date":"2010-06-24","lat":44,"v":0.27},{"date":"2010-06-24","lat":42,"v":0.22},{"date":"2010-06-24","lat":40,"v":0.17},{"date":"2010-06-24","lat":38,"v":0.13},{"date":"2010-06-24","lat":36,"v":0.11},{"date":"2010-06-24","lat":34,"v":0.13},{"date":"2010-06-24","lat":32,"v":0.1},{"date":"2010-06-24","lat":30,"v":0.075},{"date":"2010-06-24","lat":28,"v":0.075},{"date":"2010-06-24","lat":26,"v":0.085},{"date":"2010-06-24","lat":24,"v":0.09},{"date":"2010-06-24","lat":22,"v":0.08},{"date":"2010-06-24","lat":20,"v":0.08},{"date":"2010-06-24","lat":19,"v":0.1},{"date":"2010-06-24","lat":18,"v":0.2},{"date":"2010-06-24","lat":17,"v":0.4},{"date":"2010-06-24","lat":16,"v":0.56},{"date":"2010-06-24","lat":15,"v":0.65},{"date":"2010-06-24","lat":14,"v":0.72},{"date":"2010-06-24","lat":13,"v":0.78},{"date":"2010-06-24","lat":12,"v":0.75},{"date":"2010-06-24","lat":11,"v":0.68},{"date":"2010-06-24","lat":10,"v":0.66},{"date":"2010-06-24","lat":9,"v":0.67},{"date":"2010-06-24","lat":8.5,"v":0.69},{"date":"2010-06-24","lat":8,"v":0.69},{"date":"2010-06-24","lat":7,"v":0.6},{"date":"2010-06-24","lat":6,"v":0.42},{"date":"2010-06-24","lat":5,"v":0.22},{"date":"2010-06-24","lat":4,"v":0.12},{"date":"2010-06-24","lat":3,"v":0.09},{"date":"2010-06-24","lat":1,"v":0.08},{"date":"2010-06-24","lat":-1,"v":0.07},{"date":"2010-06-24","lat":-3,"v":0.065},{"date":"2010-06-24","lat":-5,"v":0.06},{"date":"2010-06-24","lat":-6,"v":0.065},{"date":"2010-06-24","lat":-7,"v":0.1},{"date":"2010-06-24","lat":-8,"v":0.14},{"date":"2010-06-24","lat":-9,"v":0.11},{"date":"2010-06-24","lat":-10,"v":0.07},{"date":"2010-06-24","lat":-11,"v":0.055},{"date":"2010-06-24","lat":-12,"v":0.05},{"date":"2010-06-24","lat":-14,"v":0.048},{"date":"2010-06-24","lat":-16,"v":0.048},{"date":"2010-06-24","lat":-18,"v":0.048},{"date":"2010-06-24","lat":-20,"v":0.048},{"date":"2010-06-24","lat":-22,"v":0.05},{"date":"2010-06-24","lat":-24,"v":0.05},{"date":"2010-06-24","lat":-26,"v":0.055},{"date":"2010-06-24","lat":-28,"v":0.07},{"date":"2010-06-24","lat":-30,"v":0.09},{"date":"2010-06-24","lat":-32,"v":0.12},{"date":"2010-06-24","lat":-34,"v":0.18},{"date":"2010-06-24","lat":-36,"v":0.22},{"date":"2010-06-24","lat":-38,"v":0.22},{"date":"2010-06-24","lat":-40,"v":0.19},{"date":"2010-06-24","lat":-42,"v":0.16},{"date":"2010-06-24","lat":-44,"v":0.13},{"date":"2010-06-24","lat":-46,"v":0.11},{"date":"2010-06-24","lat":-48,"v":0.09},{"date":"2010-06-24","lat":-50,"v":0.1},{"date":"2010-06-24","lat":-52,"v":0.11},{"date":"2010-06-24","lat":-54,"v":0.11},{"date":"2010-06-24","lat":-56,"v":0.12},{"date":"2010-06-24","lat":-58,"v":0.15},{"date":"2010-06-24","lat":-60,"v":0.19},
{"date":"2010-06-30","lat":60,"v":0.23},{"date":"2010-06-30","lat":58,"v":0.25},{"date":"2010-06-30","lat":56,"v":0.28},{"date":"2010-06-30","lat":54,"v":0.3},{"date":"2010-06-30","lat":52,"v":0.38},{"date":"2010-06-30","lat":50,"v":0.42},{"date":"2010-06-30","lat":48,"v":0.36},{"date":"2010-06-30","lat":46,"v":0.3},{"date":"2010-06-30","lat":44,"v":0.26},{"date":"2010-06-30","lat":42,"v":0.23},{"date":"2010-06-30","lat":40,"v":0.17},{"date":"2010-06-30","lat":38,"v":0.14},{"date":"2010-06-30","lat":36,"v":0.12},{"date":"2010-06-30","lat":34,"v":0.22},{"date":"2010-06-30","lat":33,"v":0.2},{"date":"2010-06-30","lat":32,"v":0.13},{"date":"2010-06-30","lat":30,"v":0.16},{"date":"2010-06-30","lat":28,"v":0.22},{"date":"2010-06-30","lat":27,"v":0.29},{"date":"2010-06-30","lat":26,"v":0.36},{"date":"2010-06-30","lat":25,"v":0.28},{"date":"2010-06-30","lat":24,"v":0.17},{"date":"2010-06-30","lat":23,"v":0.11},{"date":"2010-06-30","lat":22,"v":0.09},{"date":"2010-06-30","lat":21,"v":0.09},{"date":"2010-06-30","lat":20,"v":0.1},{"date":"2010-06-30","lat":19,"v":0.12},{"date":"2010-06-30","lat":18,"v":0.2},{"date":"2010-06-30","lat":17,"v":0.38},{"date":"2010-06-30","lat":16,"v":0.46},{"date":"2010-06-30","lat":15,"v":0.52},{"date":"2010-06-30","lat":14,"v":0.57},{"date":"2010-06-30","lat":13,"v":0.61},{"date":"2010-06-30","lat":12,"v":0.6},{"date":"2010-06-30","lat":11,"v":0.58},{"date":"2010-06-30","lat":10,"v":0.575},{"date":"2010-06-30","lat":9,"v":0.6},{"date":"2010-06-30","lat":8.5,"v":0.67},{"date":"2010-06-30","lat":8,"v":0.66},{"date":"2010-06-30","lat":7,"v":0.58},{"date":"2010-06-30","lat":6,"v":0.41},{"date":"2010-06-30","lat":5,"v":0.22},{"date":"2010-06-30","lat":4,"v":0.12},{"date":"2010-06-30","lat":3,"v":0.09},{"date":"2010-06-30","lat":1,"v":0.08},{"date":"2010-06-30","lat":-1,"v":0.07},{"date":"2010-06-30","lat":-3,"v":0.065},{"date":"2010-06-30","lat":-5,"v":0.06},{"date":"2010-06-30","lat":-6,"v":0.07},{"date":"2010-06-30","lat":-7,"v":0.11},{"date":"2010-06-30","lat":-8,"v":0.155},{"date":"2010-06-30","lat":-9,"v":0.12},{"date":"2010-06-30","lat":-10,"v":0.07},{"date":"2010-06-30","lat":-11,"v":0.055},{"date":"2010-06-30","lat":-12,"v":0.05},{"date":"2010-06-30","lat":-14,"v":0.048},{"date":"2010-06-30","lat":-16,"v":0.047},{"date":"2010-06-30","lat":-18,"v":0.047},{"date":"2010-06-30","lat":-20,"v":0.048},{"date":"2010-06-30","lat":-22,"v":0.05},{"date":"2010-06-30","lat":-24,"v":0.055},{"date":"2010-06-30","lat":-26,"v":0.065},{"date":"2010-06-30","lat":-28,"v":0.08},{"date":"2010-06-30","lat":-30,"v":0.1},{"date":"2010-06-30","lat":-32,"v":0.12},{"date":"2010-06-30","lat":-34,"v":0.17},{"date":"2010-06-30","lat":-36,"v":0.2},{"date":"2010-06-30","lat":-38,"v":0.2},{"date":"2010-06-30","lat":-40,"v":0.17},{"date":"2010-06-30","lat":-42,"v":0.13},{"date":"2010-06-30","lat":-44,"v":0.1},{"date":"2010-06-30","lat":-46,"v":0.12},{"date":"2010-06-30","lat":-48,"v":0.165},{"date":"2010-06-30","lat":-50,"v":0.17},{"date":"2010-06-30","lat":-52,"v":0.16},{"date":"2010-06-30","lat":-54,"v":0.135},{"date":"2010-06-30","lat":-56,"v":0.16},{"date":"2010-06-30","lat":-58,"v":0.22},{"date":"2010-06-30","lat":-60,"v":0.225},
{"date":"2010-07-01","lat":60,"v":0.32},{"date":"2010-07-01","lat":58,"v":0.34},{"date":"2010-07-01","lat":56,"v":0.35},{"date":"2010-07-01","lat":54,"v":0.35},{"date":"2010-07-01","lat":52,"v":0.36},{"date":"2010-07-01","lat":50,"v":0.36},{"date":"2010-07-01","lat":48,"v":0.34},{"date":"2010-07-01","lat":46,"v":0.29},{"date":"2010-07-01","lat":44,"v":0.27},{"date":"2010-07-01","lat":42,"v":0.25},{"date":"2010-07-01","lat":40,"v":0.17},{"date":"2010-07-01","lat":38,"v":0.11},{"date":"2010-07-01","lat":36,"v":0.12},{"date":"2010-07-01","lat":34,"v":0.17},{"date":"2010-07-01","lat":32,"v":0.11},{"date":"2010-07-01","lat":30,"v":0.08},{"date":"2010-07-01","lat":28,"v":0.07},{"date":"2010-07-01","lat":26,"v":0.09},{"date":"2010-07-01","lat":24,"v":0.1},{"date":"2010-07-01","lat":22,"v":0.075},{"date":"2010-07-01","lat":20,"v":0.075},{"date":"2010-07-01","lat":19,"v":0.1},{"date":"2010-07-01","lat":18,"v":0.22},{"date":"2010-07-01","lat":17,"v":0.42},{"date":"2010-07-01","lat":16,"v":0.5},{"date":"2010-07-01","lat":15,"v":0.55},{"date":"2010-07-01","lat":14,"v":0.61},{"date":"2010-07-01","lat":13,"v":0.65},{"date":"2010-07-01","lat":12,"v":0.63},{"date":"2010-07-01","lat":11,"v":0.59},{"date":"2010-07-01","lat":10,"v":0.59},{"date":"2010-07-01","lat":9,"v":0.63},{"date":"2010-07-01","lat":8.5,"v":0.7},{"date":"2010-07-01","lat":8,"v":0.69},{"date":"2010-07-01","lat":7,"v":0.6},{"date":"2010-07-01","lat":6,"v":0.42},{"date":"2010-07-01","lat":5,"v":0.22},{"date":"2010-07-01","lat":4,"v":0.12},{"date":"2010-07-01","lat":3,"v":0.09},{"date":"2010-07-01","lat":1,"v":0.075},{"date":"2010-07-01","lat":-1,"v":0.065},{"date":"2010-07-01","lat":-3,"v":0.06},{"date":"2010-07-01","lat":-5,"v":0.058},{"date":"2010-07-01","lat":-6,"v":0.065},{"date":"2010-07-01","lat":-7,"v":0.1},{"date":"2010-07-01","lat":-8,"v":0.14},{"date":"2010-07-01","lat":-9,"v":0.11},{"date":"2010-07-01","lat":-10,"v":0.065},{"date":"2010-07-01","lat":-11,"v":0.05},{"date":"2010-07-01","lat":-12,"v":0.047},{"date":"2010-07-01","lat":-14,"v":0.045},{"date":"2010-07-01","lat":-16,"v":0.045},{"date":"2010-07-01","lat":-18,"v":0.045},{"date":"2010-07-01","lat":-20,"v":0.045},{"date":"2010-07-01","lat":-22,"v":0.047},{"date":"2010-07-01","lat":-24,"v":0.05},{"date":"2010-07-01","lat":-26,"v":0.06},{"date":"2010-07-01","lat":-28,"v":0.075},{"date":"2010-07-01","lat":-30,"v":0.09},{"date":"2010-07-01","lat":-32,"v":0.12},{"date":"2010-07-01","lat":-34,"v":0.2},{"date":"2010-07-01","lat":-36,"v":0.25},{"date":"2010-07-01","lat":-38,"v":0.25},{"date":"2010-07-01","lat":-40,"v":0.21},{"date":"2010-07-01","lat":-42,"v":0.16},{"date":"2010-07-01","lat":-44,"v":0.12},{"date":"2010-07-01","lat":-46,"v":0.1},{"date":"2010-07-01","lat":-48,"v":0.08},{"date":"2010-07-01","lat":-50,"v":0.09},{"date":"2010-07-01","lat":-52,"v":0.1},{"date":"2010-07-01","lat":-54,"v":0.1},{"date":"2010-07-01","lat":-56,"v":0.1},{"date":"2010-07-01","lat":-58,"v":0.12},{"date":"2010-07-01","lat":-60,"v":0.16},
{"date":"2010-09-03","lat":60,"v":0.3},{"date":"2010-09-03","lat":58,"v":0.34},{"date":"2010-09-03","lat":56,"v":0.36},{"date":"2010-09-03","lat":54,"v":0.37},{"date":"2010-09-03","lat":52,"v":0.37},{"date":"2010-09-03","lat":50,"v":0.36},{"date":"2010-09-03","lat":48,"v":0.33},{"date":"2010-09-03","lat":46,"v":0.28},{"date":"2010-09-03","lat":44,"v":0.23},{"date":"2010-09-03","lat":42,"v":0.26},{"date":"2010-09-03","lat":40,"v":0.19},{"date":"2010-09-03","lat":38,"v":0.11},{"date":"2010-09-03","lat":36,"v":0.11},{"date":"2010-09-03","lat":34,"v":0.15},{"date":"2010-09-03","lat":32,"v":0.1},{"date":"2010-09-03","lat":30,"v":0.07},{"date":"2010-09-03","lat":28,"v":0.07},{"date":"2010-09-03","lat":26,"v":0.09},{"date":"2010-09-03","lat":24,"v":0.09},{"date":"2010-09-03","lat":22,"v":0.065},{"date":"2010-09-03","lat":20,"v":0.07},{"date":"2010-09-03","lat":19,"v":0.1},{"date":"2010-09-03","lat":18,"v":0.28},{"date":"2010-09-03","lat":17,"v":0.5},{"date":"2010-09-03","lat":16,"v":0.64},{"date":"2010-09-03","lat":15,"v":0.71},{"date":"2010-09-03","lat":14,"v":0.77},{"date":"2010-09-03","lat":13,"v":0.8},{"date":"2010-09-03","lat":12,"v":0.75},{"date":"2010-09-03","lat":11,"v":0.68},{"date":"2010-09-03","lat":10,"v":0.65},{"date":"2010-09-03","lat":9,"v":0.69},{"date":"2010-09-03","lat":8.5,"v":0.73},{"date":"2010-09-03","lat":8,"v":0.72},{"date":"2010-09-03","lat":7,"v":0.62},{"date":"2010-09-03","lat":6,"v":0.43},{"date":"2010-09-03","lat":5,"v":0.23},{"date":"2010-09-03","lat":4,"v":0.12},{"date":"2010-09-03","lat":3,"v":0.09},{"date":"2010-09-03","lat":1,"v":0.075},{"date":"2010-09-03","lat":-1,"v":0.065},{"date":"2010-09-03","lat":-3,"v":0.06},{"date":"2010-09-03","lat":-5,"v":0.056},{"date":"2010-09-03","lat":-6,"v":0.06},{"date":"2010-09-03","lat":-7,"v":0.09},{"date":"2010-09-03","lat":-8,"v":0.13},{"date":"2010-09-03","lat":-9,"v":0.1},{"date":"2010-09-03","lat":-10,"v":0.06},{"date":"2010-09-03","lat":-11,"v":0.05},{"date":"2010-09-03","lat":-12,"v":0.046},{"date":"2010-09-03","lat":-14,"v":0.044},{"date":"2010-09-03","lat":-16,"v":0.044},{"date":"2010-09-03","lat":-18,"v":0.044},{"date":"2010-09-03","lat":-20,"v":0.045},{"date":"2010-09-03","lat":-22,"v":0.048},{"date":"2010-09-03","lat":-24,"v":0.07},{"date":"2010-09-03","lat":-25,"v":0.11},{"date":"2010-09-03","lat":-26,"v":0.12},{"date":"2010-09-03","lat":-27,"v":0.09},{"date":"2010-09-03","lat":-28,"v":0.08},{"date":"2010-09-03","lat":-30,"v":0.09},{"date":"2010-09-03","lat":-32,"v":0.13},{"date":"2010-09-03","lat":-34,"v":0.2},{"date":"2010-09-03","lat":-36,"v":0.25},{"date":"2010-09-03","lat":-38,"v":0.265},{"date":"2010-09-03","lat":-40,"v":0.22},{"date":"2010-09-03","lat":-42,"v":0.16},{"date":"2010-09-03","lat":-44,"v":0.12},{"date":"2010-09-03","lat":-46,"v":0.09},{"date":"2010-09-03","lat":-48,"v":0.07},{"date":"2010-09-03","lat":-50,"v":0.08},{"date":"2010-09-03","lat":-52,"v":0.1},{"date":"2010-09-03","lat":-54,"v":0.1},{"date":"2010-09-03","lat":-56,"v":0.095},{"date":"2010-09-03","lat":-58,"v":0.12},{"date":"2010-09-03","lat":-60,"v":0.16},
{"date":"2010-09-05","lat":60,"v":0.35},{"date":"2010-09-05","lat":58,"v":0.38},{"date":"2010-09-05","lat":56,"v":0.37},{"date":"2010-09-05","lat":54,"v":0.36},{"date":"2010-09-05","lat":52,"v":0.35},{"date":"2010-09-05","lat":50,"v":0.34},{"date":"2010-09-05","lat":48,"v":0.31},{"date":"2010-09-05","lat":46,"v":0.26},{"date":"2010-09-05","lat":44,"v":0.22},{"date":"2010-09-05","lat":42,"v":0.24},{"date":"2010-09-05","lat":40,"v":0.17},{"date":"2010-09-05","lat":38,"v":0.11},{"date":"2010-09-05","lat":36,"v":0.11},{"date":"2010-09-05","lat":34,"v":0.14},{"date":"2010-09-05","lat":32,"v":0.1},{"date":"2010-09-05","lat":30,"v":0.07},{"date":"2010-09-05","lat":28,"v":0.065},{"date":"2010-09-05","lat":26,"v":0.08},{"date":"2010-09-05","lat":24,"v":0.09},{"date":"2010-09-05","lat":22,"v":0.06},{"date":"2010-09-05","lat":20,"v":0.065},{"date":"2010-09-05","lat":19,"v":0.1},{"date":"2010-09-05","lat":18,"v":0.3},{"date":"2010-09-05","lat":17,"v":0.52},{"date":"2010-09-05","lat":16,"v":0.7},{"date":"2010-09-05","lat":15,"v":0.76},{"date":"2010-09-05","lat":14,"v":0.83},{"date":"2010-09-05","lat":13.5,"v":0.845},{"date":"2010-09-05","lat":13,"v":0.82},{"date":"2010-09-05","lat":12,"v":0.75},{"date":"2010-09-05","lat":11,"v":0.66},{"date":"2010-09-05","lat":10,"v":0.63},{"date":"2010-09-05","lat":9,"v":0.69},{"date":"2010-09-05","lat":8.5,"v":0.76},{"date":"2010-09-05","lat":8,"v":0.74},{"date":"2010-09-05","lat":7,"v":0.62},{"date":"2010-09-05","lat":6,"v":0.42},{"date":"2010-09-05","lat":5,"v":0.22},{"date":"2010-09-05","lat":4,"v":0.12},{"date":"2010-09-05","lat":3,"v":0.085},{"date":"2010-09-05","lat":1,"v":0.075},{"date":"2010-09-05","lat":-1,"v":0.065},{"date":"2010-09-05","lat":-3,"v":0.06},{"date":"2010-09-05","lat":-5,"v":0.055},{"date":"2010-09-05","lat":-6,"v":0.06},{"date":"2010-09-05","lat":-7,"v":0.08},{"date":"2010-09-05","lat":-8,"v":0.12},{"date":"2010-09-05","lat":-9,"v":0.09},{"date":"2010-09-05","lat":-10,"v":0.06},{"date":"2010-09-05","lat":-11,"v":0.05},{"date":"2010-09-05","lat":-12,"v":0.045},{"date":"2010-09-05","lat":-14,"v":0.043},{"date":"2010-09-05","lat":-16,"v":0.043},{"date":"2010-09-05","lat":-18,"v":0.043},{"date":"2010-09-05","lat":-20,"v":0.044},{"date":"2010-09-05","lat":-22,"v":0.045},{"date":"2010-09-05","lat":-23,"v":0.06},{"date":"2010-09-05","lat":-24,"v":0.1},{"date":"2010-09-05","lat":-25,"v":0.15},{"date":"2010-09-05","lat":-26,"v":0.11},{"date":"2010-09-05","lat":-27,"v":0.08},{"date":"2010-09-05","lat":-28,"v":0.07},{"date":"2010-09-05","lat":-30,"v":0.08},{"date":"2010-09-05","lat":-32,"v":0.12},{"date":"2010-09-05","lat":-34,"v":0.19},{"date":"2010-09-05","lat":-36,"v":0.24},{"date":"2010-09-05","lat":-38,"v":0.27},{"date":"2010-09-05","lat":-40,"v":0.24},{"date":"2010-09-05","lat":-42,"v":0.17},{"date":"2010-09-05","lat":-44,"v":0.12},{"date":"2010-09-05","lat":-46,"v":0.09},{"date":"2010-09-05","lat":-48,"v":0.07},{"date":"2010-09-05","lat":-50,"v":0.08},{"date":"2010-09-05","lat":-52,"v":0.095},{"date":"2010-09-05","lat":-54,"v":0.1},{"date":"2010-09-05","lat":-56,"v":0.09},{"date":"2010-09-05","lat":-58,"v":0.11},{"date":"2010-09-05","lat":-60,"v":0.15}
]},
"layer":[
{"mark":{"type":"line","interpolate":"monotone","strokeWidth":1.2,"clip":true},
 "encoding":{
  "x":{"field":"lat","type":"quantitative","scale":{"domain":[60,-60],"nice":false,"zero":false},
   "axis":{"orient":"bottom","values":[60,50,40,30,20,10,0,-10,-20,-30,-40,-50,-60],"labelExpr":"'' + datum.value","ticks":false,"domain":false,"grid":false,"labelFlush":false,"labelFontSize":19,"labelColor":"black","labelFont":"Liberation Sans","labelPadding":9,"title":"Planetocentric Latitude","titleFontSize":20,"titleFontWeight":"normal","titleColor":"black","titleFont":"Liberation Sans","titlePadding":6}},
  "y":{"field":"v","type":"quantitative","scale":{"domain":[0,1],"nice":false,"zero":false},
   "axis":{"orient":"left","values":[0,0.2,0.4,0.6,0.8,1],"format":".1f","ticks":false,"domain":false,"grid":false,"labelFlush":true,"labelFontSize":19,"labelColor":"black","labelFont":"Liberation Sans","labelPadding":8,"title":"Normalised Radiance","titleFontSize":20,"titleFontWeight":"normal","titleColor":"black","titleFont":"Liberation Sans","titlePadding":12}},
  "color":{"field":"date","type":"nominal",
   "scale":{"domain":["2008-05-27","2008-06-16","2008-07-10","2008-07-27","2008-08-07","2008-09-24","2009-07-20","2009-08-06","2009-08-18","2009-08-27","2010-06-24","2010-06-30","2010-07-01","2010-09-03","2010-09-05"],
    "range":["#8c0000","#cc0000","#ff2a1a","#ff7020","#ffa500","#ffff00","#bfff40","#80ff80","#40ffc0","#00e8ff","#00a0ff","#0060ff","#0020ff","#0000cc","#000080"]},
   "legend":{"orient":"none","legendX":595,"legendY":-19,"title":null,"symbolType":"stroke","symbolSize":289,"symbolStrokeWidth":2,"labelFontSize":17,"labelColor":"#16168a","labelFont":"Liberation Sans","rowPadding":3.6,"labelOffset":8,"padding":0}}
 }},
{"data":{"values":[{"lat":0,"v":0}]},"mark":{"type":"point","opacity":0},
 "encoding":{
  "x":{"field":"lat","type":"quantitative","scale":{"domain":[60,-60],"nice":false,"zero":false},"axis":{"orient":"bottom","values":[60,50,40,30,20,10,0,-10,-20,-30,-40,-50,-60],"labels":false,"domain":false,"grid":false,"tickSize":-7,"tickColor":"#333","title":null}},
  "y":{"field":"v","type":"quantitative","scale":{"domain":[0,1],"nice":false,"zero":false},"axis":{"orient":"left","values":[0,0.2,0.4,0.6,0.8,1],"labels":false,"domain":false,"grid":false,"tickSize":-11,"tickColor":"#333","title":null}}
 }},
{"data":{"values":[{"lat":0,"v":0}]},"mark":{"type":"point","opacity":0},
 "encoding":{
  "x":{"field":"lat","type":"quantitative","scale":{"domain":[60,-60],"nice":false,"zero":false},"axis":{"orient":"bottom","values":[58,56,54,52,48,46,44,42,38,36,34,32,28,26,24,22,18,16,14,12,8,6,4,2,-2,-4,-6,-8,-12,-14,-16,-18,-22,-24,-26,-28,-32,-34,-36,-38,-42,-44,-46,-48,-52,-54,-56,-58],"labels":false,"domain":false,"grid":false,"tickSize":-4,"tickColor":"#333","title":null}},
  "y":{"field":"v","type":"quantitative","scale":{"domain":[0,1],"nice":false,"zero":false},"axis":{"orient":"left","values":[0.05,0.1,0.15,0.25,0.3,0.35,0.45,0.5,0.55,0.65,0.7,0.75,0.85,0.9,0.95],"labels":false,"domain":false,"grid":false,"tickSize":-6,"tickColor":"#333","title":null}}
 }},
{"data":{"values":[{"lat":0,"v":0}]},"mark":{"type":"point","opacity":0},
 "encoding":{
  "x":{"field":"lat","type":"quantitative","scale":{"domain":[60,-60],"nice":false,"zero":false},"axis":{"orient":"top","values":[60,50,40,30,20,10,0,-10,-20,-30,-40,-50,-60],"labels":false,"domain":false,"grid":false,"tickSize":-7,"tickColor":"#333","title":null}},
  "y":{"field":"v","type":"quantitative","scale":{"domain":[0,1],"nice":false,"zero":false},"axis":{"orient":"right","values":[0,0.2,0.4,0.6,0.8,1],"labels":false,"domain":false,"grid":false,"tickSize":-11,"tickColor":"#333","title":null}}
 }},
{"data":{"values":[{"lat":0,"v":0}]},"mark":{"type":"point","opacity":0},
 "encoding":{
  "x":{"field":"lat","type":"quantitative","scale":{"domain":[60,-60],"nice":false,"zero":false},"axis":{"orient":"top","values":[58,56,54,52,48,46,44,42,38,36,34,32,28,26,24,22,18,16,14,12,8,6,4,2,-2,-4,-6,-8,-12,-14,-16,-18,-22,-24,-26,-28,-32,-34,-36,-38,-42,-44,-46,-48,-52,-54,-56,-58],"labels":false,"domain":false,"grid":false,"tickSize":-4,"tickColor":"#333","title":null}},
  "y":{"field":"v","type":"quantitative","scale":{"domain":[0,1],"nice":false,"zero":false},"axis":{"orient":"right","values":[0.05,0.1,0.15,0.25,0.3,0.35,0.45,0.5,0.55,0.65,0.7,0.75,0.85,0.9,0.95],"labels":false,"domain":false,"grid":false,"tickSize":-6,"tickColor":"#333","title":null}}
 }}
],
"resolve":{"axis":{"x":"independent","y":"independent"}}
}
